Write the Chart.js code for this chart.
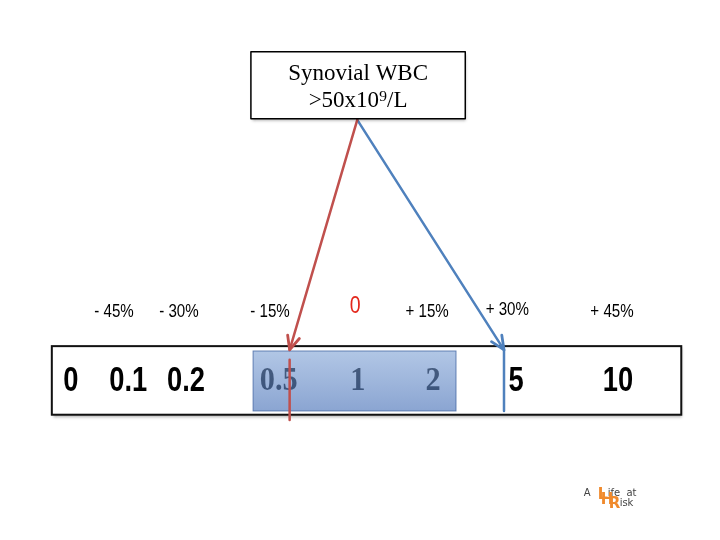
<!DOCTYPE html>
<html>
<head>
<meta charset="utf-8">
<title>Synovial WBC - likelihood ratio</title>
<script src="https://cdn.jsdelivr.net/npm/chart.js"></script>
<style>
    body { margin: 0; background: #fff; }
    #wrap { width: 720px; height: 540px; }
</style>
</head>
<body>
<div id="wrap"><canvas id="chart" width="720" height="540"></canvas></div>
<script>
// likelihood ratios on the ruler, x = where they sit on the change-in-probability axis (%)
const lrLabels = ['0', '0.1', '0.2', '0.5', '1', '2', '5', '10'];
const lrPos = [-53, -42.5, -31.9, -14.9, -0.4, 13.4, 28.6, 47.3];

// change in probability labels above the ruler
const pctLabels = ['- 45%', '- 30%', '- 15%', '0', '+ 15%', '+ 30%', '+ 45%'];
const pctPos = [-45.1, -33.2, -16.5, -0.9, 12.3, 27.0, 46.2];

// the finding and where its two arrows land
const findingLines = ['Synovial WBC', '>50x10⁹/L'];
const arrowFrom = [-0.5, 77.8];
const redArrowTo = [-12.9, 35.2];
const blueArrowTo = [26.4, 35.2];
const redTick = [33.4, 22.2];
const blueTick = [35.2, 23.9];

// shaded range of the ruler (LR 0.5 to 2)
const rangeLabels = ['0.5', '2'];

const RED = '#c0504d';
const BLUE = '#4f81bd';

// layout, in axis units
const ruler = { left: -56.5, right: 58.9, top: 35.9, bottom: 23.2 };
const box = { left: -20, right: 19.3, top: 90.4, bottom: 78 };
const lrRowY = 29.6, pctRowY = 42.2;

function px(chart, x, y) {
    return [chart.scales.x.getPixelForValue(x), chart.scales.y.getPixelForValue(y)];
}

function rect(chart, l, t, r, b) {
    const [x1, y1] = px(chart, l, t);
    const [x2, y2] = px(chart, r, b);
    return [x1, y1, x2 - x1, y2 - y1];
}

// no narrow font installed, so squeeze the normal one
function narrowText(ctx, text, x, y, sx) {
    ctx.save();
    ctx.translate(x, y);
    ctx.scale(sx, 1);
    ctx.fillText(text, 0, 0);
    ctx.restore();
}

const diagram = {
    id: 'diagram',
    beforeDatasetsDraw(chart) {
        const ctx = chart.ctx;
        ctx.save();
        // ruler
        const [rx, ry, rw, rh] = rect(chart, ruler.left, ruler.top, ruler.right, ruler.bottom);
        ctx.shadowColor = 'rgba(0,0,0,0.35)';
        ctx.shadowBlur = 3;
        ctx.shadowOffsetX = 1;
        ctx.shadowOffsetY = 2;
        ctx.fillStyle = '#fff';
        ctx.fillRect(rx, ry, rw, rh);
        ctx.shadowColor = 'transparent';
        ctx.strokeStyle = '#111';
        ctx.lineWidth = 2;
        ctx.strokeRect(rx, ry, rw, rh);

        // LR numbers
        const i0 = lrLabels.indexOf(rangeLabels[0]);
        const i1 = lrLabels.indexOf(rangeLabels[1]);
        ctx.textAlign = 'center';
        ctx.textBaseline = 'middle';
        lrLabels.forEach((lab, i) => {
            const [x, y] = px(chart, lrPos[i], lrRowY);
            if (i >= i0 && i <= i1) {
                ctx.fillStyle = '#000';
                ctx.font = 'bold 33px "Liberation Serif"';
                narrowText(ctx, lab, x, y + 1, 0.92);
            } else {
                ctx.fillStyle = '#000';
                ctx.font = 'bold 35px "Liberation Sans"';
                narrowText(ctx, lab, x, y + 1, 0.78);
            }
        });

        // shaded range
        const [bx, by, bw, bh] = rect(chart, lrPos[i0] - 4.7, 35.0, lrPos[i1] + 4.2, 23.9);
        const g = ctx.createLinearGradient(0, by, 0, by + bh);
        g.addColorStop(0, 'rgba(125,160,212,0.6)');
        g.addColorStop(1, 'rgba(78,118,186,0.66)');
        ctx.fillStyle = g;
        ctx.fillRect(bx, by, bw, bh);
        ctx.strokeStyle = 'rgba(70,105,165,0.8)';
        ctx.lineWidth = 1;
        ctx.strokeRect(bx, by, bw, bh);
        ctx.restore();
    },
    afterDatasetsDraw(chart) {
        const ctx = chart.ctx;
        ctx.save();
        // arrow heads
        [[redArrowTo, RED], [blueArrowTo, BLUE]].forEach(([to, col]) => {
            const [x0, y0] = px(chart, arrowFrom[0], arrowFrom[1]);
            const [x1, y1] = px(chart, to[0], to[1]);
            const a = Math.atan2(y1 - y0, x1 - x0);
            const len = 15, spread = 0.42;
            ctx.strokeStyle = col;
            ctx.lineWidth = 2.8;
            ctx.lineCap = 'round';
            ctx.lineJoin = 'round';
            ctx.beginPath();
            ctx.moveTo(x1 - len * Math.cos(a - spread), y1 - len * Math.sin(a - spread));
            ctx.lineTo(x1, y1);
            ctx.lineTo(x1 - len * Math.cos(a + spread), y1 - len * Math.sin(a + spread));
            ctx.stroke();
        });

        // finding box
        const [fx, fy, fw, fh] = rect(chart, box.left, box.top, box.right, box.bottom);
        ctx.shadowColor = 'rgba(0,0,0,0.35)';
        ctx.shadowBlur = 3;
        ctx.shadowOffsetX = 1;
        ctx.shadowOffsetY = 2;
        ctx.fillStyle = '#fff';
        ctx.fillRect(fx, fy, fw, fh);
        ctx.shadowColor = 'transparent';
        ctx.strokeStyle = '#000';
        ctx.lineWidth = 1.5;
        ctx.strokeRect(fx, fy, fw, fh);
        ctx.fillStyle = '#000';
        ctx.font = '23px "Liberation Serif"';
        ctx.textAlign = 'center';
        ctx.textBaseline = 'middle';
        const cx = fx + fw / 2;
        ctx.fillText(findingLines[0], cx, fy + fh * 0.33);
        ctx.fillText(findingLines[1], cx, fy + fh * 0.73);

        // change in probability labels
        pctLabels.forEach((lab, i) => {
            const [x, y] = px(chart, pctPos[i], pctRowY);
            if (lab === '0') {
                ctx.fillStyle = '#e3261b';
                ctx.font = '23px "Liberation Sans"';
                narrowText(ctx, lab, x, y - 5, 0.85);
            } else {
                ctx.fillStyle = '#000';
                ctx.font = '18px "Liberation Sans"';
                narrowText(ctx, lab, x, lab === '+ 30%' ? y - 2 : y, 0.84);
            }
        });

        // small logo bottom right
        const [lx, ly] = px(chart, 41.0, 8.7);
        ctx.textAlign = 'left';
        ctx.fillStyle = '#444';
        ctx.font = '10px "DejaVu Sans"';
        ctx.fillText('A', lx, ly);
        ctx.fillText('ife  at', lx + 24, ly);
        ctx.fillText('isk', lx + 36, ly + 10);
        ctx.fillStyle = '#f08a2c';
        ctx.font = 'bold 15px "DejaVu Sans"';
        ctx.fillText('L', lx + 14, ly + 2);
        ctx.fillText('H', lx + 17, ly + 7);
        ctx.fillText('R', lx + 25, ly + 11);
        ctx.restore();
    }
};

const seg = (a, b) => [{ x: a[0], y: a[1] }, { x: b[0], y: b[1] }];

new Chart(document.getElementById('chart'), {
    type: 'scatter',
    data: {
        datasets: [
            { data: seg(arrowFrom, redArrowTo), borderColor: RED },
            { data: seg([redArrowTo[0], redTick[0]], [redArrowTo[0], redTick[1]]), borderColor: RED },
            { data: seg(arrowFrom, blueArrowTo), borderColor: BLUE },
            { data: seg([blueArrowTo[0], blueTick[0]], [blueArrowTo[0], blueTick[1]]), borderColor: BLUE }
        ].map(d => Object.assign(d, { showLine: true, borderWidth: 2.5, pointRadius: 0, borderCapStyle: 'round' }))
    },
    options: {
        responsive: false,
        animation: false,
        layout: { padding: 0 },
        plugins: { legend: { display: false }, tooltip: { enabled: false } },
        scales: {
            x: { type: 'linear', min: -66, max: 66, display: false },
            y: { type: 'linear', min: 0, max: 100, display: false }
        }
    },
    plugins: [diagram]
});
</script>
</body>
</html>
